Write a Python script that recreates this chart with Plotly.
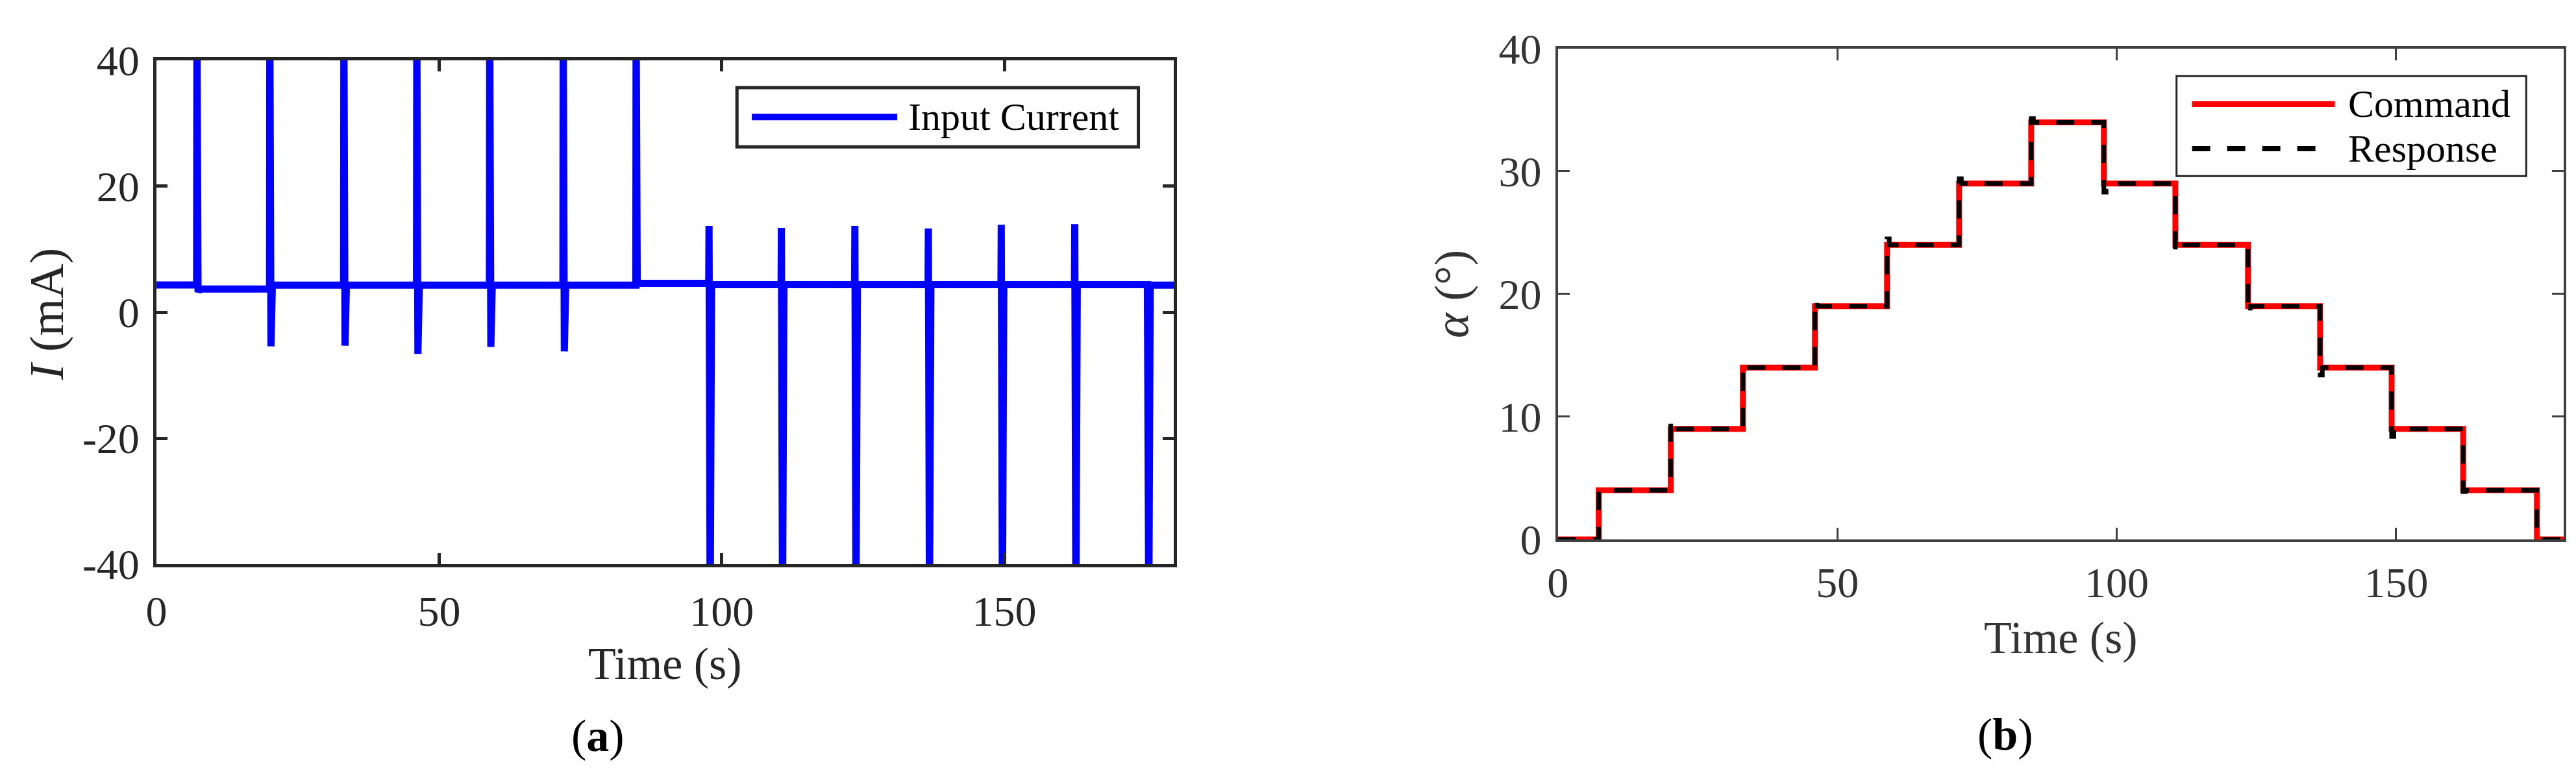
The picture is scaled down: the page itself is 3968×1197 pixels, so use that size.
import plotly.graph_objects as go

W, H = 3968, 1197
FONT = "Liberation Serif, Times New Roman, serif"

# (a) input current: one spike event at each step change of the command
event_t = [7.1, 20.0, 33.1, 46.0, 58.9, 71.9, 84.8, 97.7, 110.5, 123.5, 136.5, 149.4, 162.4, 175.3]
spike_high = [48, 48, 48, 48, 48, 48, 48, 13.7, 13.4, 13.7, 13.3, 13.9, 14.0, 4.4]
spike_low = [3.2, -5.4, -5.3, -6.6, -5.5, -6.2, 4.3, -48, -48, -48, -48, -48, -48, -48]
base_after = [3.7, 4.3, 4.3, 4.3, 4.3, 4.3, 4.6, 4.4, 4.4, 4.4, 4.4, 4.4, 4.4, 4.3]
base_start = 4.35
t_end = 180

# (b) rotation angle, command vs measured response
step_t = [7.3, 20.2, 33.1, 46.0, 58.9, 71.8, 84.7, 97.7, 110.5, 123.5, 136.4, 149.2, 162.0, 175.2]
cmd_deg = [4, 9, 14, 19, 24, 29, 34, 29, 24, 19, 14, 9, 4, 0]
resp_peak_deg = [4.0, 9.7, 14.3, 19.5, 24.5, 29.4, 34.3, 28.3, 23.4, 18.4, 13.4, 8.4, 3.9, 0.0]


def px(x, y):
    return x / W, 1 - y / H


# current trace
cur_t, cur_i = [0], [base_start]
prev = base_start
for t, hi, lo, b in zip(event_t, spike_high, spike_low, base_after):
    cur_t += [t, t + 0.05, t + 0.25, t + 0.5]
    cur_i += [prev, hi, lo, b]
    prev = b
cur_t.append(t_end)
cur_i.append(prev)

# command / response
cmd_x = [0] + step_t + [t_end]
cmd_y = [0] + cmd_deg + [cmd_deg[-1]]
resp_x, resp_y = [0], [0]
for t, pk, lv in zip(step_t, resp_peak_deg, cmd_deg):
    resp_x += [t, t + 0.4]
    resp_y += [pk, lv]
resp_x.append(t_end)
resp_y.append(cmd_deg[-1])

fig = go.Figure()
fig.add_trace(go.Scatter(x=cur_t, y=cur_i, mode="lines", name="Input Current",
                         line=dict(color="#0000ff", width=11), xaxis="x", yaxis="y"))
fig.add_trace(go.Scatter(x=cmd_x, y=cmd_y, mode="lines", name="Command",
                         line=dict(color="#ff0000", width=9, shape="hv"), xaxis="x2", yaxis="y2"))
fig.add_trace(go.Scatter(x=resp_x, y=resp_y, mode="lines", name="Response",
                         line=dict(color="#000000", width=7, shape="hv", dash="28px,26px"),
                         xaxis="x2", yaxis="y2"))

axis_a = dict(showline=True, linecolor="#262626", linewidth=5, mirror="ticks",
              ticks="inside", ticklen=17, tickwidth=5, tickcolor="#262626",
              showgrid=False, zeroline=False,
              tickfont=dict(family=FONT, size=66, color="#262626"))
axis_b = dict(axis_a, linecolor="#404040", linewidth=4, tickwidth=3, tickcolor="#404040",
              ticklen=18, tickfont=dict(family=FONT, size=66, color="#333333"))

x0, y1 = px(217, 52)
x1, y0 = px(1791, 879)
bx0, by1 = px(2385, 33)
bx1, by0 = px(3941, 838)

fig.update_layout(
    width=W, height=H, margin=dict(l=0, r=0, t=0, b=0),
    paper_bgcolor="white", plot_bgcolor="white", showlegend=False,
    font=dict(family=FONT, color="#262626"),
    xaxis=dict(axis_a, domain=[x0, x1], range=[0, 180], tickvals=[0, 50, 100, 150],
               ticklabelstandoff=10, anchor="y"),
    yaxis=dict(axis_a, domain=[y0, y1], range=[-40, 40], tickvals=[-40, -20, 0, 20, 40],
               ticktext=["-40", "-20", "0", "20", "40"], ticklabelstandoff=8, anchor="x"),
    xaxis2=dict(axis_b, domain=[bx0, bx1], range=[0, 180], tickvals=[0, 50, 100, 150],
                ticklabelstandoff=6, anchor="y2"),
    yaxis2=dict(axis_b, domain=[by0, by1], range=[0, 40], tickvals=[0, 10, 20, 30, 40],
                ticklabelstandoff=8, anchor="x2"),
)

# text labels
labels = [
    ("Time (s)", 1004, 1042, 70, 0, "#262626"),
    ("Time (s)", 3163, 999, 70, 0, "#333333"),
    ("<i>I</i> (mA)", 48, 469, 74, -90, "#262626"),
    ("<i>α</i> (°)", 2221, 435, 74, -90, "#333333"),
    ("(<b>a</b>)", 900, 1160, 70, 0, "#000000"),
    ("(<b>b</b>)", 3077, 1158, 70, 0, "#000000"),
]
for txt, lx, ly, size, ang, col in labels:
    ax_, ay_ = px(lx, ly)
    fig.add_annotation(text=txt, x=ax_, y=ay_, xref="paper", yref="paper", showarrow=False,
                       textangle=ang, xanchor="center", yanchor="middle",
                       font=dict(family=FONT, size=size, color=col))

# legend boxes drawn as shapes so the line samples match the original length
def legend_box(left, top, right, bottom, items, lw):
    lx0, ly1 = px(left, top)
    lx1, ly0 = px(right, bottom)
    fig.add_shape(type="rect", xref="paper", yref="paper", x0=lx0, x1=lx1, y0=ly0, y1=ly1,
                  line=dict(color="#262626", width=lw), fillcolor="white", layer="above")
    for name, sx0, sx1, sy, color, width, dash, tx in items:
        a0, b0 = px(sx0, sy)
        a1, _ = px(sx1, sy)
        fig.add_shape(type="line", xref="paper", yref="paper", x0=a0, x1=a1, y0=b0, y1=b0,
                      line=dict(color=color, width=width, dash=dash), layer="above")
        t0, _ = px(tx, sy)
        fig.add_annotation(text=name, x=t0, y=b0, xref="paper", yref="paper", showarrow=False,
                           xanchor="left", yanchor="middle",
                           font=dict(family=FONT, size=60, color="#000000"))


legend_box(1115, 97, 1736, 194,
           [("Input Current", 1138, 1363, 145, "#0000ff", 10, "solid", 1378)], 5)
legend_box(3342, 78, 3883, 242,
           [("Command", 3366, 3587, 124, "#ff0000", 9, "solid", 3605),
            ("Response", 3366, 3573, 197, "#000000", 8, "28px,26px", 3605)], 3)

fig.write_html("out.html")
